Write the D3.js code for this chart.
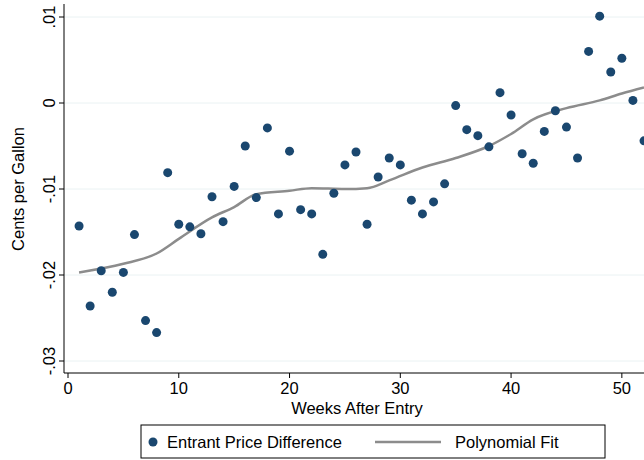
<!DOCTYPE html>
<html><head><meta charset="utf-8">
<script src="https://cdn.jsdelivr.net/npm/d3@7.9.0/dist/d3.min.js"></script>
<style>body{margin:0;background:#fff}text{font-family:Arial,"Liberation Sans",sans-serif}</style>
</head><body><svg id="c" width="644" height="460"></svg>
<script>
const weeks = d3.range(1, 53);
const priceDiff = [-0.0143,-0.0236,-0.0195,-0.022,-0.0197,-0.0153,-0.0253,-0.0267,-0.0081,-0.0141,
  -0.0144,-0.0152,-0.0109,-0.0138,-0.0097,-0.005,-0.011,-0.0029,-0.0129,-0.0056,
  -0.0124,-0.0129,-0.0176,-0.0105,-0.0072,-0.0057,-0.0141,-0.0086,-0.0064,-0.0072,
  -0.0113,-0.0129,-0.0115,-0.0094,-0.0003,-0.0031,-0.0038,-0.0051,0.0012,-0.0014,
  -0.0059,-0.007,-0.0033,-0.0009,-0.0028,-0.0064,0.006,0.0101,0.0036,0.0052,0.0003,-0.0044];
const fitWeeks = [1,5,8,10,13,15,17,20,22,25,27,29,32,35,38,40,42,45,48,50,52];
const fitValues = [-0.0197,-0.0187,-0.0175,-0.0158,-0.0133,-0.0121,-0.0106,-0.0102,-0.0099,-0.01,-0.0099,-0.009,-0.0075,-0.0064,-0.005,-0.0036,-0.0019,-0.0006,0.0003,0.0011,0.0018];
const xTicks = [0,10,20,30,40,50];
const yTicks = [-0.03,-0.02,-0.01,0,0.01];
const yLabels = ["-.03","-.02","-.01","0",".01"];

const svg = d3.select('#c');
const x = d3.scaleLinear().domain([0, 52]).range([68, 644]);
const y = d3.scaleLinear().domain([-0.03, 0.01]).range([361, 17]);
const plotTop = 4, plotBottom = 373, plotLeft = 64;
const fs = 16.5;

svg.append('g').selectAll('line').data(yTicks).join('line')
  .attr('x1', plotLeft).attr('x2', 644).attr('y1', d => y(d)).attr('y2', d => y(d))
  .attr('stroke', '#eaf2f3').attr('stroke-width', 1);

svg.append('line').attr('x1', plotLeft).attr('x2', plotLeft).attr('y1', plotTop).attr('y2', plotBottom).attr('stroke', '#000');
svg.append('line').attr('x1', plotLeft).attr('x2', 644).attr('y1', plotBottom).attr('y2', plotBottom).attr('stroke', '#000');

svg.append('g').selectAll('line').data(yTicks).join('line')
  .attr('x1', plotLeft - 5).attr('x2', plotLeft).attr('y1', d => y(d)).attr('y2', d => y(d)).attr('stroke', '#000');
svg.append('g').selectAll('text').data(yTicks).join('text')
  .attr('transform', d => `translate(${plotLeft - 9},${y(d)}) rotate(-90)`)
  .attr('text-anchor', 'middle').attr('font-size', fs).text((d, i) => yLabels[i]);

svg.append('g').selectAll('line').data(xTicks).join('line')
  .attr('x1', d => x(d)).attr('x2', d => x(d)).attr('y1', plotBottom).attr('y2', plotBottom + 5).attr('stroke', '#000');
svg.append('g').selectAll('text').data(xTicks).join('text')
  .attr('x', d => x(d)).attr('y', plotBottom + 21).attr('text-anchor', 'middle').attr('font-size', fs).text(d => d);

svg.append('text').attr('x', 357).attr('y', 414).attr('text-anchor', 'middle').attr('font-size', fs).text('Weeks After Entry');
svg.append('text').attr('transform', 'translate(24,189) rotate(-90)').attr('text-anchor', 'middle')
  .attr('font-size', fs).text('Cents per Gallon');

svg.append('path').datum(fitWeeks.map((w, i) => [w, fitValues[i]]))
  .attr('d', d3.line().x(d => x(d[0])).y(d => y(d[1])).curve(d3.curveMonotoneX))
  .attr('fill', 'none').attr('stroke', '#8c8c8c').attr('stroke-width', 2.5);

svg.append('g').selectAll('circle').data(weeks).join('circle')
  .attr('cx', d => x(d)).attr('cy', (d, i) => y(priceDiff[i])).attr('r', 4.5).attr('fill', '#1a476f');

const lg = svg.append('g');
lg.append('rect').attr('x', 141).attr('y', 425).attr('width', 464).attr('height', 33)
  .attr('fill', '#fff').attr('stroke', '#000');
lg.append('circle').attr('cx', 153).attr('cy', 442).attr('r', 4.5).attr('fill', '#1a476f');
lg.append('text').attr('x', 167).attr('y', 448).attr('font-size', fs).text('Entrant Price Difference');
lg.append('line').attr('x1', 375).attr('x2', 441).attr('y1', 442).attr('y2', 442)
  .attr('stroke', '#8c8c8c').attr('stroke-width', 2.5);
lg.append('text').attr('x', 455).attr('y', 448).attr('font-size', fs).text('Polynomial Fit');
</script></body></html>
